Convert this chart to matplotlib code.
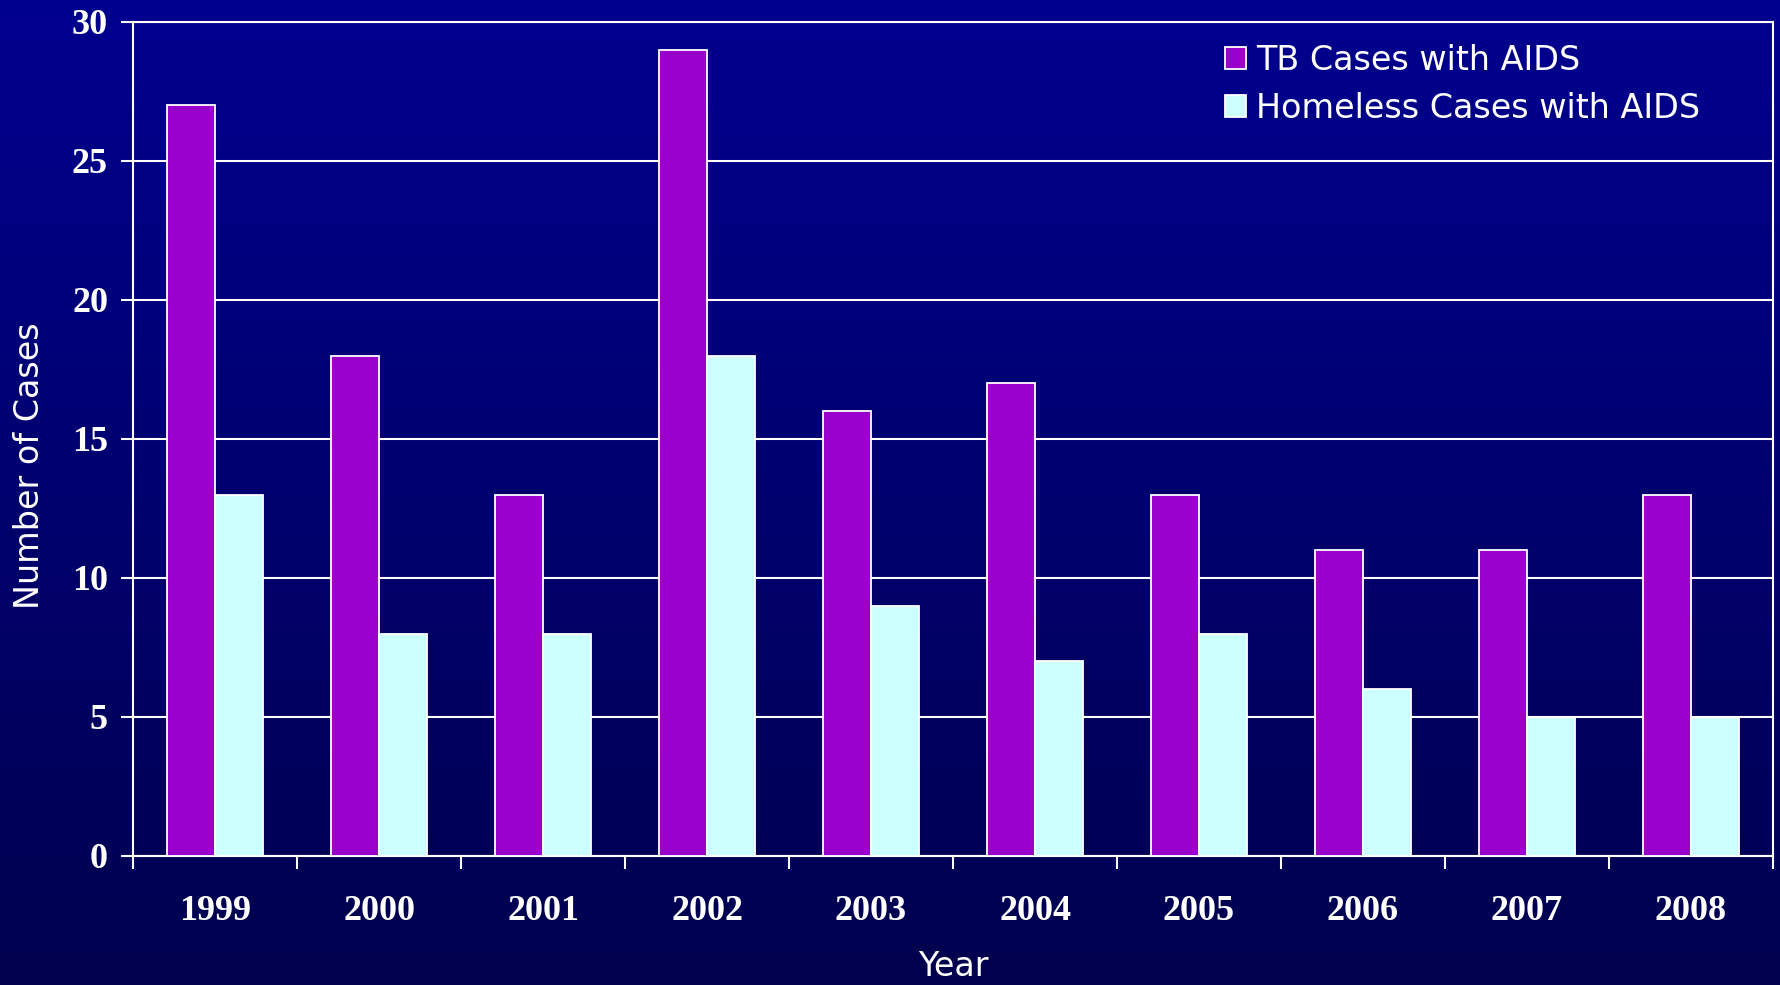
import numpy as np
import matplotlib.pyplot as plt
from matplotlib.colors import LinearSegmentedColormap

years = ['1999', '2000', '2001', '2002', '2003', '2004', '2005', '2006', '2007', '2008']
tb_aids = [27, 18, 13, 29, 16, 17, 13, 11, 11, 13]
homeless_aids = [13, 8, 8, 18, 9, 7, 8, 6, 5, 5]

fig = plt.figure(figsize=(17.81, 9.85), dpi=100)

# background gradient, dark blue fading downwards
bg = fig.add_axes([0, 0, 1, 1], zorder=-1)
cmap = LinearSegmentedColormap.from_list('bg', ['#00008f', '#00004e'])
bg.imshow(np.linspace(0, 1, 256).reshape(-1, 1), aspect='auto', cmap=cmap,
          extent=[0, 1, 0, 1])
bg.axis('off')

ax = fig.add_axes([0.0747, 0.131, 0.9208, 0.8467])
ax.set_facecolor('none')

x = np.arange(len(years))
w = 0.29
ax.bar(x - w / 2, tb_aids, w, color='#9900cc', edgecolor='white', linewidth=1.3,
       label='TB Cases with AIDS', zorder=3)
ax.bar(x + w / 2, homeless_aids, w, color='#ccffff', edgecolor='white', linewidth=1.3,
       label='Homeless Cases with AIDS', zorder=3)

ax.set_xlim(-0.5, 9.5)
ax.set_ylim(0, 30)
ax.set_yticks(range(0, 31, 5))
ax.yaxis.grid(True, color='white', linewidth=1.5, zorder=0)

ax.set_xticks(np.arange(-0.5, 10, 1))
ax.set_xticklabels([])
ax.set_xticks(x, minor=True)
ax.set_xticklabels(years, minor=True)
ax.tick_params(axis='x', which='major', direction='out', length=9, width=1.5, color='white')
ax.tick_params(axis='x', which='minor', length=0, pad=28)
ax.tick_params(axis='y', direction='out', length=9, width=1.5, color='white', pad=9)

for lab in ax.get_xticklabels(minor=True) + ax.get_yticklabels():
    lab.set_fontfamily('Liberation Serif')
    lab.set_fontweight('bold')
    lab.set_color('white')
    lab.set_fontsize(26)

for s in ax.spines.values():
    s.set_color('white')
    s.set_linewidth(1.5)

ax.set_ylabel('Number of Cases', fontsize=24, color='white')
ax.yaxis.set_label_coords(-0.053, 0.468)
ax.set_xlabel('Year', fontsize=24, color='white', labelpad=16)

leg = ax.legend(loc='upper right', frameon=False, fontsize=24, labelcolor='white',
                handlelength=0.65, handleheight=0.65, handletextpad=0.3,
                labelspacing=0.45, bbox_to_anchor=(0.974, 1.01))

fig.savefig('out.png', dpi=100)
